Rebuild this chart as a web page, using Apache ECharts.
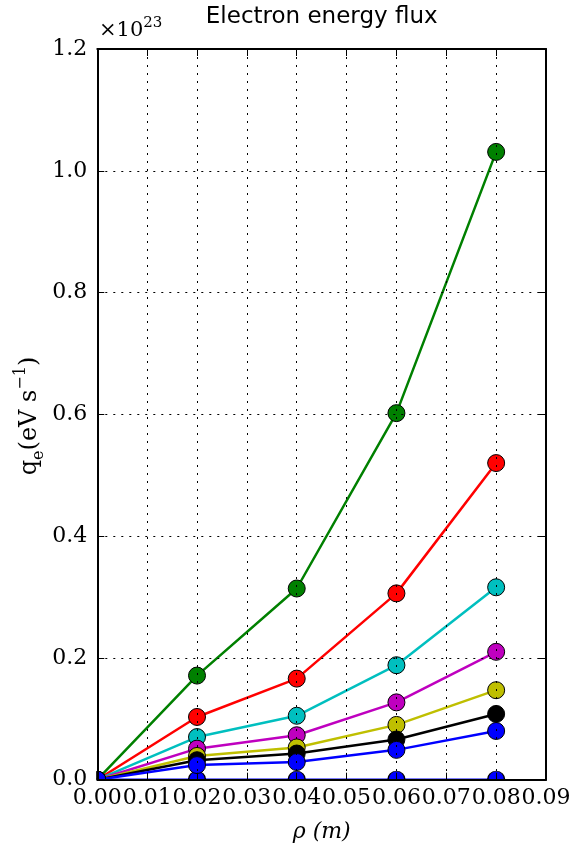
<!DOCTYPE html>
<html>
<head>
<meta charset="utf-8">
<script src="https://cdn.jsdelivr.net/npm/echarts@6/dist/echarts.min.js"></script>
<style>
html,body{margin:0;padding:0;background:#fff;}
#chart{width:572px;height:849px;}
</style>
</head>
<body>
<div id="chart"></div>
<script>
// x positions (rho, m)
const rho = [0, 0.02, 0.04, 0.06, 0.08];
// series values (units of 1e23 eV/s)
const s0 = [0, 0, 0, 0, 0];
const sGreen = [0, 0.171, 0.314, 0.602, 1.031];
const sRed = [0, 0.103, 0.166, 0.306, 0.520];
const sCyan = [0, 0.070, 0.105, 0.188, 0.316];
const sMagenta = [0, 0.051, 0.073, 0.127, 0.210];
const sYellow = [0, 0.039, 0.053, 0.090, 0.147];
const sBlack = [0, 0.032, 0.043, 0.066, 0.108];
const sBlue = [0, 0.024, 0.029, 0.049, 0.080];
const seriesList = [
  {vals: s0, color: '#0000ff'},
  {vals: sGreen, color: '#008000'},
  {vals: sRed, color: '#ff0000'},
  {vals: sCyan, color: '#00bfbf'},
  {vals: sMagenta, color: '#bf00bf'},
  {vals: sYellow, color: '#bfbf00'},
  {vals: sBlack, color: '#000000'},
  {vals: sBlue, color: '#0000ff'}
];
const titleText = 'Electron energy flux';

const chart = echarts.init(document.getElementById('chart'), null, {renderer: 'canvas'});
const serif = 'DejaVu Serif';
const gridDash = {color: '#000', width: 1, type: [2, 6]};
const axLine = {show: true, onZero: false, lineStyle: {color: '#000', width: 2}};
const tick = (len) => ({show: true, inside: true, length: len, lineStyle: {color: '#000', width: 1}});

// markers on the plot edge are clipped by the axes box (half / quarter circles)
const MS = 17;
const HALF = 'path://M0,10 A10,10 0 0 1 20,10 Z';
const QUARTER = 'path://M0,10 L0,0 A10,10 0 0 1 10,10 Z';
function point(x, y) {
  if (x === 0 && y === 0) {
    return {value: [x, y], symbol: QUARTER, symbolSize: [MS / 2, MS / 2], symbolOffset: [MS / 4, -MS / 4]};
  }
  if (y === 0) {
    return {value: [x, y], symbol: HALF, symbolSize: [MS, MS / 2], symbolOffset: [0, -MS / 4]};
  }
  return {value: [x, y]};
}

const option = {
  animation: false,
  backgroundColor: '#fff',
  grid: {left: 97.3, right: 26, top: 49, bottom: 69.3, containLabel: false, outerBoundsMode: 'none'},
  xAxis: [
    {type: 'value', min: 0, max: 0.09, interval: 0.01, position: 'bottom', z: 10,
     axisLine: axLine, axisTick: tick(7),
     axisLabel: {margin: 8, fontFamily: serif, fontSize: 22, color: '#000',
       showMinLabel: true, showMaxLabel: true, hideOverlap: false,
       formatter: v => v.toFixed(2)},
     splitLine: {show: true, lineStyle: gridDash}},
    {type: 'value', min: 0, max: 0.09, interval: 0.01, position: 'top', z: 10,
     axisLine: axLine, axisTick: tick(7), axisLabel: {show: false}, splitLine: {show: false}}
  ],
  yAxis: [
    {type: 'value', min: 0, max: 1.2, interval: 0.2, position: 'left', z: 10,
     axisLine: axLine, axisTick: tick(7),
     axisLabel: {margin: 10, fontFamily: serif, fontSize: 22, color: '#000',
       showMinLabel: true, showMaxLabel: true,
       formatter: v => v.toFixed(1)},
     splitLine: {show: true, lineStyle: gridDash}},
    {type: 'value', min: 0, max: 1.2, interval: 0.2, position: 'right', z: 10,
     axisLine: axLine, axisTick: tick(7), axisLabel: {show: false}, splitLine: {show: false}}
  ],
  series: seriesList.map((s, i) => ({
    type: 'line',
    xAxisIndex: 0, yAxisIndex: 0,
    data: rho.map((x, j) => point(x, s.vals[j])),
    symbol: 'circle', symbolSize: MS,
    lineStyle: {color: s.color, width: 2.5},
    itemStyle: {color: s.color, borderColor: '#000', borderWidth: 1},
    z: 2 + i * 0.01,
    clip: false
  })),
  graphic: [
    {type: 'text', z: 120, x: 321.7, y: 17.5,
     style: {text: titleText, fontFamily: 'DejaVu Sans', fontSize: 23, fill: '#000',
       align: 'center', verticalAlign: 'middle'}},
    {type: 'text', z: 120, x: 99, y: 31,
     style: {text: '{b|×10}{sup|23}', align: 'left', verticalAlign: 'middle',
       rich: {
         b: {fontFamily: serif, fontSize: 21, lineHeight: 30, fill: '#000'},
         sup: {fontFamily: serif, fontSize: 15, lineHeight: 15, verticalAlign: 'top', fill: '#000'}
       }}},
    {type: 'text', z: 120, x: 30, y: 416, rotation: Math.PI / 2,
     style: {text: '{b|q}{sub|e}{b|(eV s}{sup|−1}{b|)}', align: 'center', verticalAlign: 'middle',
       rich: {
         b: {fontFamily: serif, fontSize: 24, lineHeight: 34, fill: '#000'},
         sub: {fontFamily: serif, fontSize: 16, lineHeight: 23, verticalAlign: 'bottom', fill: '#000'},
         sup: {fontFamily: serif, fontSize: 16, lineHeight: 16, verticalAlign: 'top', fill: '#000'}
       }}},
    {type: 'text', z: 120, x: 321.7, y: 832,
     style: {text: 'ρ (m)', fontFamily: serif, fontStyle: 'italic', fontSize: 22, fill: '#000',
       align: 'center', verticalAlign: 'middle'}}
  ]
};
chart.setOption(option);
</script>
</body>
</html>
